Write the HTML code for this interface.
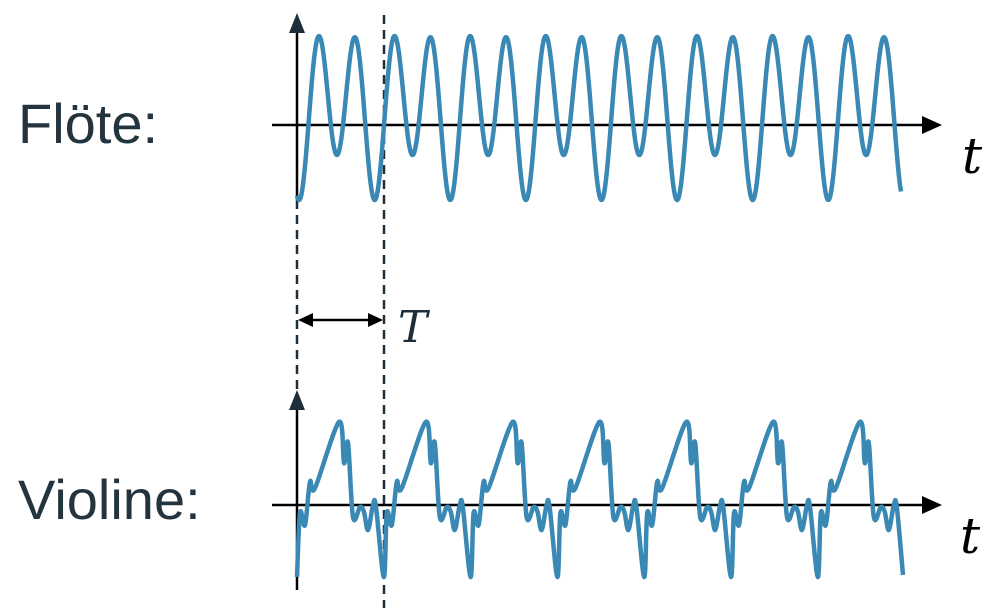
<!DOCTYPE html>
<html><head><meta charset="utf-8"><style>
html,body{margin:0;padding:0;background:#fff;}
svg{display:block}
</style></head><body>
<svg id="s" width="1000" height="611" viewBox="0 0 1000 611" xmlns="http://www.w3.org/2000/svg">
<text x="18" y="143" font-family="Liberation Sans, sans-serif" font-size="56" fill="#24343f">Flöte:</text>
<text x="18" y="519" font-family="Liberation Sans, sans-serif" font-size="56" fill="#24343f">Violine:</text>
<!-- axes flute -->
<line x1="272" y1="125" x2="925" y2="125" stroke="#000" stroke-width="2.5"/>
<polygon points="942,125 922,116 922,134" fill="#000"/>
<line x1="297" y1="30" x2="297" y2="200" stroke="#000" stroke-width="2.5"/>
<polygon points="297,13 289,33 305,33" fill="#1e2f3a"/>
<!-- axes violin -->
<line x1="272" y1="505" x2="925" y2="505" stroke="#000" stroke-width="2.5"/>
<polygon points="942,505 922,496 922,514" fill="#000"/>
<line x1="297" y1="408" x2="297" y2="590" stroke="#000" stroke-width="2.5"/>
<polygon points="297,390 289,410 305,410" fill="#1e2f3a"/>
<!-- dashed -->
<line x1="297" y1="200" x2="297" y2="408" stroke="#1e2f3a" stroke-width="2.5" stroke-dasharray="9,6"/>
<line x1="384" y1="15" x2="384" y2="608" stroke="#1e2f3a" stroke-width="2.5" stroke-dasharray="9,6"/>
<!-- T arrow -->
<line x1="302" y1="320" x2="379" y2="320" stroke="#000" stroke-width="2.5"/>
<polygon points="298,320 313,313 313,327" fill="#000"/>
<polygon points="383,320 368,313 368,327" fill="#000"/>
<text x="398" y="342" font-family="DejaVu Serif, serif" font-style="italic" font-size="44" fill="#1e2f3a">T</text>
<text x="962" y="173" font-family="DejaVu Serif, serif" font-style="italic" font-size="50" fill="#000">t</text>
<text x="960" y="553" font-family="DejaVu Serif, serif" font-style="italic" font-size="50" fill="#000">t</text>
<path id="fl" fill="none" stroke="#3a88b4" stroke-width="4.5" stroke-linejoin="round"/>
<path id="vl" fill="none" stroke="#3a88b4" stroke-width="4.5" stroke-linejoin="round"/>
</svg>
<script>
(function(){
var d="";var P=75.6;
for(var x=297;x<=901;x+=0.5){
  var th=2*Math.PI*(x-297)/P;
  var y=125-(17.5-70*Math.cos(2*th-0.35)-22.5*Math.cos(th-0.15));
  d+=(x==297?"M":"L")+x.toFixed(1)+","+y.toFixed(1);
}
document.getElementById("fl").setAttribute("d",d);
var k=[[0,577],[3,513],[8,525],[13,482],[18,488],[42,422],[47,463],[51,443],[56,517],[63,507],[67,512],[71,530],[76,505],[79,507],[86.8,577]];
var Pv=86.8,pts=[];
for(var p=0;p<7;p++){for(var i=(p==0?0:1);i<k.length;i++){var xx=297+p*Pv+k[i][0];if(xx<=904)pts.push([xx,k[i][1]]);}}
pts.push([903,575]);
var s="M"+pts[0][0]+","+pts[0][1];
for(var i=0;i<pts.length-1;i++){
 var p0=pts[Math.max(0,i-1)],p1=pts[i],p2=pts[i+1],p3=pts[Math.min(pts.length-1,i+2)];
 var c1x=p1[0]+(p2[0]-p0[0])/6,c1y=p1[1]+(p2[1]-p0[1])/6,c2x=p2[0]-(p3[0]-p1[0])/6,c2y=p2[1]-(p3[1]-p1[1])/6;
 s+="C"+c1x.toFixed(1)+","+c1y.toFixed(1)+" "+c2x.toFixed(1)+","+c2y.toFixed(1)+" "+p2[0].toFixed(1)+","+p2[1];
}
document.getElementById("vl").setAttribute("d",s);
})();
</script>
</body></html>
